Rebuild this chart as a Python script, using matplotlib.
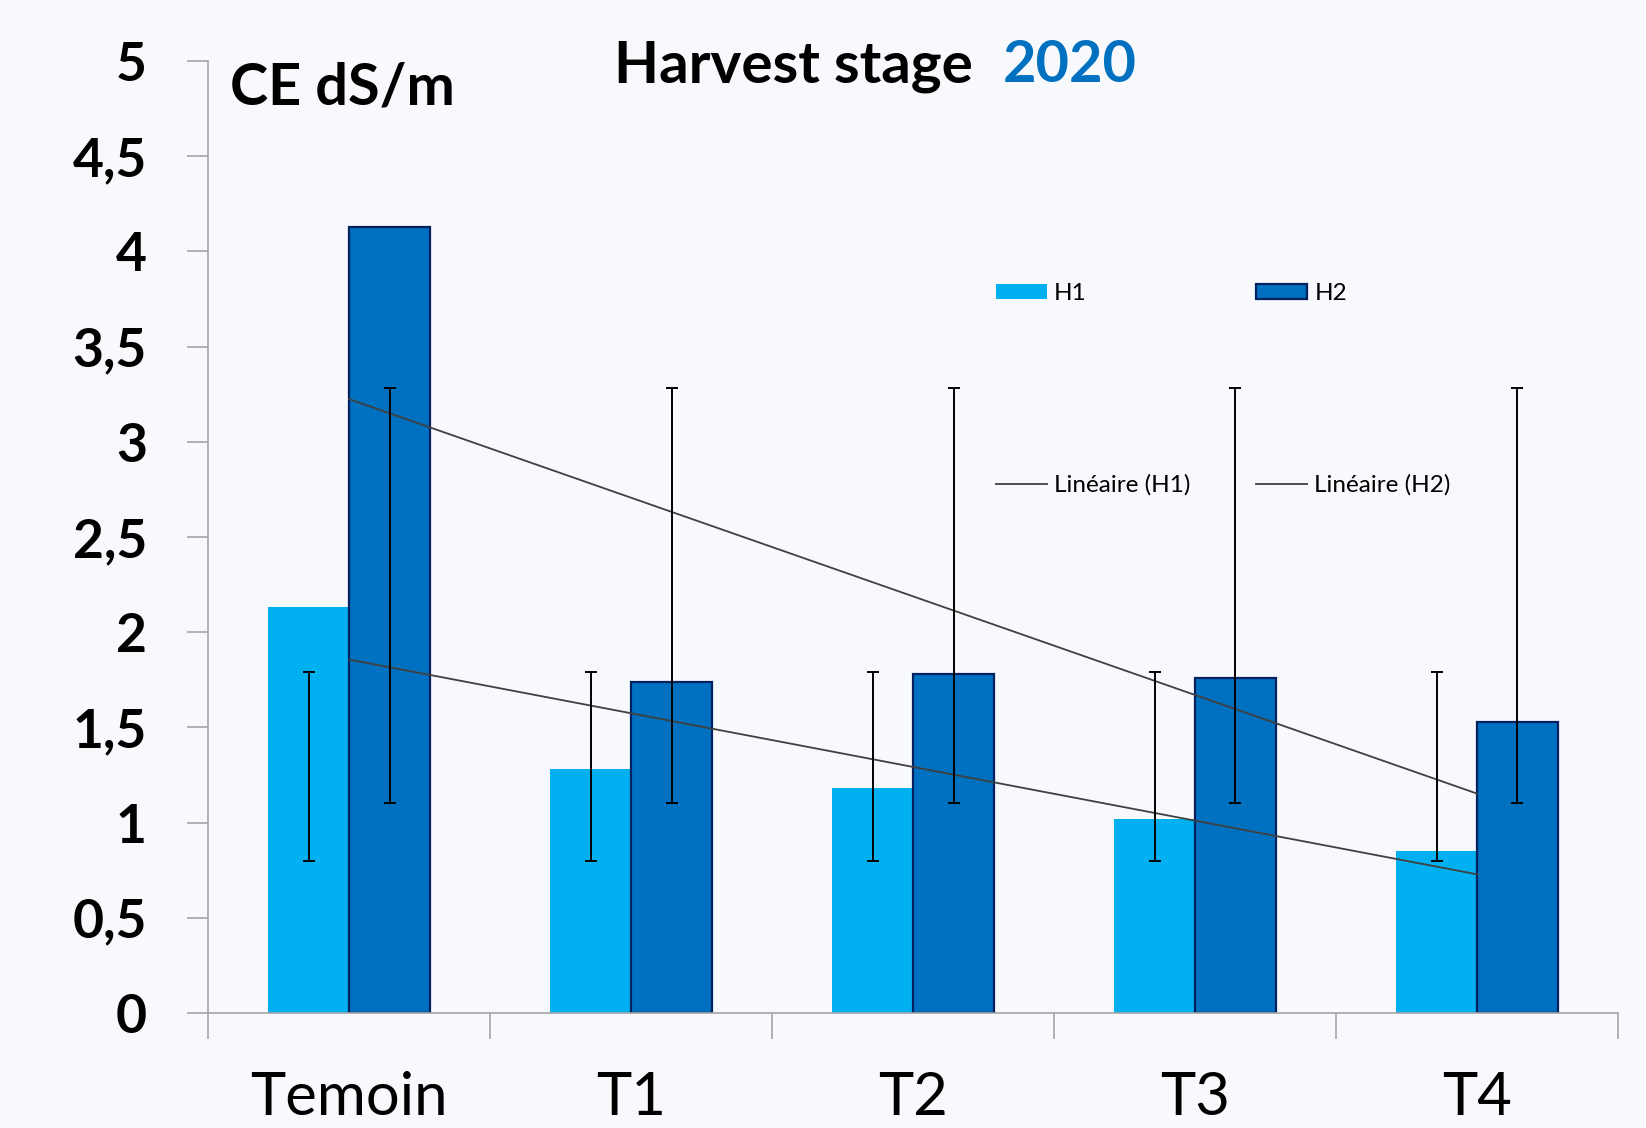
import numpy as np
import matplotlib
matplotlib.use("Agg")
import matplotlib.pyplot as plt
from matplotlib.patches import Patch
from matplotlib.lines import Line2D

# --- data ---
categories = ["Temoin", "T1", "T2", "T3", "T4"]
h1_values = [2.13, 1.28, 1.18, 1.02, 0.85]
h2_values = [4.13, 1.74, 1.78, 1.76, 1.53]
# custom error bars (same absolute range for every bar)
h1_err_low = [0.80, 0.80, 0.80, 0.80, 0.80]
h1_err_high = [1.79, 1.79, 1.79, 1.79, 1.79]
h2_err_low = [1.10, 1.10, 1.10, 1.10, 1.10]
h2_err_high = [3.28, 3.28, 3.28, 3.28, 3.28]
y_ticks = [0, 0.5, 1, 1.5, 2, 2.5, 3, 3.5, 4, 4.5, 5]
y_tick_labels = ["0", "0,5", "1", "1,5", "2", "2,5", "3", "3,5", "4", "4,5", "5"]

plt.rcParams['font.family'] = ['Lato', 'DejaVu Sans']

BG = '#f8f9fc'
C_H1 = '#00b0f0'
C_H2 = '#0070c0'
C_H2_EDGE = '#002060'
AXIS_GRAY = '#a6a6a6'

fig = plt.figure(figsize=(16.46, 11.28), dpi=100, facecolor=BG)
ax = fig.add_axes([0.1264, 0.102, 0.8566, 0.844])
ax.set_facecolor(BG)

x = np.arange(1, len(categories) + 1)
bw = 0.287

ax.bar(x - bw / 2, h1_values, width=bw, color=C_H1, linewidth=0, zorder=2)
ax.bar(x + bw / 2, h2_values, width=bw, color=C_H2, edgecolor=C_H2_EDGE,
       linewidth=1.6, zorder=2)

# error bars drawn as fixed ranges
for xs, lo, hi in [(x - bw / 2, h1_err_low, h1_err_high),
                   (x + bw / 2, h2_err_low, h2_err_high)]:
    lo = np.array(lo)
    hi = np.array(hi)
    ax.errorbar(xs, (lo + hi) / 2, yerr=(hi - lo) / 2, fmt='none',
                ecolor='black', elinewidth=1.4, capsize=4.5, capthick=1.4,
                zorder=4)

# linear trendlines
for vals in (h1_values, h2_values):
    k, b = np.polyfit(x, vals, 1)
    ax.plot([x[0], x[-1]], [k * x[0] + b, k * x[-1] + b], color='#404040',
            linewidth=1.3, zorder=3)

ax.set_xlim(0.5, len(categories) + 0.5)
ax.set_ylim(0, 5)

# axes styling
for side in ('top', 'right'):
    ax.spines[side].set_visible(False)
for side in ('left', 'bottom'):
    ax.spines[side].set_color(AXIS_GRAY)
    ax.spines[side].set_linewidth(1.2)

ax.set_yticks(y_ticks)
ax.set_yticklabels(y_tick_labels, fontsize=38.5, fontweight='bold')
ax.tick_params(axis='y', direction='out', length=15, width=1.2,
               color=AXIS_GRAY, pad=29)

ax.set_xticks(np.arange(0.5, len(categories) + 1, 1))
ax.set_xticklabels([])
ax.tick_params(axis='x', which='major', direction='out', length=19, width=1.2,
               color=AXIS_GRAY)
ax.set_xticks(x, minor=True)
ax.set_xticklabels(categories, minor=True, fontsize=43)
ax.tick_params(axis='x', which='minor', length=0, pad=42)

# texts
fig.text(0.1395, 0.907, "CE dS/m", fontsize=41.5, fontweight='bold',
         va='baseline', ha='left')
fig.text(0.373, 0.927, "Harvest stage", fontsize=42, fontweight='bold',
         va='baseline', ha='left')
fig.text(0.609, 0.927, "2020", fontsize=41.5, fontweight='bold',
         color=C_H2, va='baseline', ha='left')

# legend
handles = [Patch(facecolor=C_H1, edgecolor='none'),
           Line2D([], [], color='#404040', linewidth=1.3),
           Patch(facecolor=C_H2, edgecolor=C_H2_EDGE, linewidth=1.6),
           Line2D([], [], color='#404040', linewidth=1.3)]
labels = ["H1", "Linéaire (H1)", "H2", "Linéaire (H2)"]
fig.legend(handles, labels, ncol=2, loc='upper left',
           bbox_to_anchor=(0.605, 0.749), frameon=False, fontsize=17.5,
           handlelength=2.1, handleheight=0.6, handletextpad=0.3,
           labelspacing=7.0, columnspacing=2.7, borderpad=0, borderaxespad=0)

fig.savefig("out.png", dpi=100, facecolor=BG)
